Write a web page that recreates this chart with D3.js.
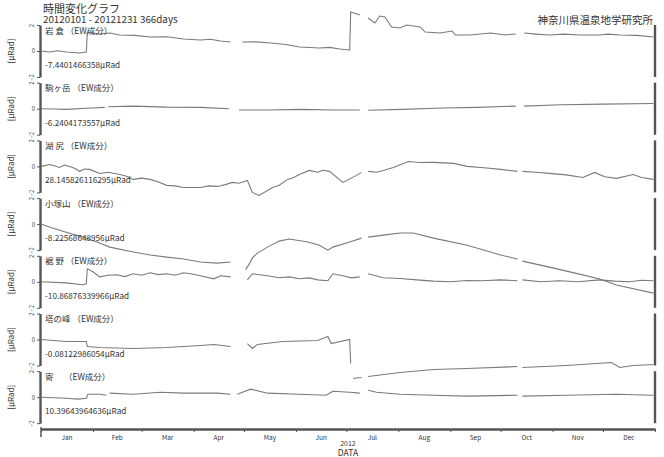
<!DOCTYPE html>
<html>
<head>
<meta charset="utf-8">
<script src="https://cdn.jsdelivr.net/npm/d3@7"></script>
<style>
  body { margin: 0; background: #fff; }
  text { font-family: "Noto Sans CJK JP", "Noto Sans", sans-serif; fill: #333; }
</style>
</head>
<body>
<div id="chart"></div>
<script>
// station labels and offsets
var stations = ["岩 倉 （EW成分）", "駒ヶ岳 （EW成分）", "湖 尻 （EW成分）", "小塚山 （EW成分）",
                "裾 野 （EW成分）", "塔の峰 （EW成分）", "寄　 （EW成分）"];
var offsets = ["-7.4401466358μRad", "-6.2404173557μRad", "28.145826116295μRad", "-8.22568648956μRad",
               "-10.86876339966μRad", "-0.08122986054μRad", "10.39643964636μRad"];

// [day of year, μRad] ; null = missing data
var iwakura = [[0,0],[5,-0.08],[10,0.02],[15,-0.08],[23,-0.15],[27,-0.08],[27.6,1.46],[35,1.31],[41,1.38],[47,1.23],
  [56,1.2],[65,1.08],[75,1.1],[85,0.92],[95,0.85],[101,0.9],[107,0.77],[113,0.69],[114,null],[120,0.69],[128,0.7],
  [137,0.62],[146,0.5],[154,0.31],[166,0.23],[172,0.28],[178,0.15],
  [184,0.08],[184.6,3.0],[190,2.77],[191,null],[195,2.54],[199,2.15],[202,2.69],[205,2.62],[209,1.85],[214,1.77],
  [218,2.0],[226,1.85],[229,1.46],[238,1.38],[245,1.54],[247,1.23],[256,1.23],[262,1.31],[268,1.38],[277,1.23],
  [283,1.31],[284,null],[288,1.38],[295,1.3],[303,1.23],[312,1.3],[321,1.23],[333,1.23],[338,1.3],[345,1.23],[355,1.2],[365,1.08]];
var komagatake = [[0,0],[8,-0.02],[15,-0.05],[30,0.05],[38,0.1],[39,null],[40,0.15],[55,0.2],[75,0.12],[95,0.1],
  [112,0.0],[113,null],[118,-0.1],[135,-0.1],[155,-0.05],[175,-0.1],[190,-0.1],[191,null],[195,-0.12],
  [215,-0.05],[240,0.05],[260,0.1],[283,0.2],[284,null],[288,0.2],[310,0.3],[335,0.35],[365,0.4]];
var kojiri = [[0,0],[5,0.15],[8,0.05],[11,-0.08],[14,0.1],[17,0],[20,-0.15],[23,-0.38],[26,-0.2],[29,-0.23],[35,-0.54],
  [40,-0.45],[47,-0.62],[51,-0.75],[55,-1.0],[60,-0.9],[65,-1.0],[70,-1.2],[75,-1.46],[80,-1.5],[85,-1.62],[95,-1.62],
  [100,-1.5],[105,-1.54],[110,-1.4],[114,-1.23],[118,-1.3],[123,-1.08],[126,-2.0],[130,-2.23],
  [138,-1.62],[142,-1.45],[147,-1.0],[150,-0.9],[154,-0.62],[160,-0.31],[165,-0.45],[168,-0.3],[172,-0.38],[180,-1.23],[188,-0.69],[191,-0.46],[192,null],
  [195,-0.38],[200,-0.45],[204,-0.31],[210,-0.08],[219,0.38],[226,0.3],[234,0.31],[246,0.23],[254,0],[264,-0.1],[274,-0.23],[284,-0.38],
  [285,null],[287,-0.38],[295,-0.45],[303,-0.54],[313,-0.65],[323,-0.85],[330,-0.46],[336,-0.8],[343,-0.92],[353,-0.62],[358,-0.85],[365,-1.0]];
var kozukayama = [[0,0],[5,-0.23],[15,-0.62],[25,-1.0],[35,-1.46],[41,-1.77],[55,-2.15],[65,-2.38],
  [75,-2.54],[85,-2.69],[95,-2.92],[105,-3.0],[113,-2.92],[114,null],[122,-3.5],[124,-3.1],[126,-2.6],
  [129,-2.23],[135,-1.77],[142,-1.31],[148,-1.15],[159,-1.38],[166,-1.62],[171,-2.0],[174,-1.77],
  [184,-1.38],[191,-1.08],[192,null],[195,-1.0],[204,-0.85],[214,-0.69],[222,-0.69],[234,-1.08],
  [254,-1.62],[274,-2.38],[284,-2.69],[285,null],[287,-2.85],[303,-3.31],[321,-3.85],[333,-4.23],
  [343,-4.69],[365,-5.31]];
var susono = [[0,0],[15,-0.08],[25,-0.23],[27,-0.15],[27.6,1.0],[31,0.77],[35,0.38],[40,0.5],[45,0.54],[50,0.4],[55,0.62],
  [60,0.5],[65,0.69],[70,0.55],[75,0.62],[80,0.5],[85,0.69],[90,0.6],[95,0.46],[103,0.23],[107,0.46],[113,0.38],[114,null],[123,0.15],
  [126,0.62],[135,0.46],[142,0.31],[148,0.38],[154,0.23],[160,0.3],[165,0.15],[171,0.08],[174,0.62],[180,0.46],[185,0.3],[190,0.38],
  [191,null],[195,0.62],[204,0.31],[214,0.25],[224,0.15],[234,0.05],[244,0],[254,0.1],[263,0.08],[274,0.15],[284,0.08],[285,null],
  [287,0.15],[298,0.0],[309,0.08],[320,0.0],[333,0.15],[342,0.05],[351,0],[358,0.12],[365,0.08]];
var tonomine = [[0,0],[15,-0.15],[27,-0.15],[27.6,-0.54],[35,-0.62],[55,-0.69],[75,-0.62],[95,-0.46],
  [103,-0.38],[113,-0.54],[114,null],[123,-0.31],[126,-0.69],[129,-0.38],[144,-0.15],[165,-0.08],
  [171,0.23],[173,-0.31],[184,0.0],[184.6,-1.85],[185,null],[186,-3.0],[191,-2.92],[192,null],[195,-2.85],
  [214,-2.54],[234,-2.31],[254,-2.23],[284,-2.08],[285,null],[287,-2.15],[313,-2.0],[340,-1.77],
  [345,-2.15],[353,-2.0],[365,-1.92]];
var yadoriki = [[0,0],[15,-0.08],[22,-0.15],[27,-0.08],[28,0.23],[35,0.23],[39,0.15],[40,null],[41,0.31],
  [55,0.23],[71,0.38],[85,0.31],[105,0.31],[113,0.23],[114,null],[117,0.23],[125,0.62],[135,0.31],
  [154,0.23],[170,0.15],[174,0.46],[184,0.38],[190,0.31],[191,null],[195,0.54],[200,0.38],[214,0.23],
  [234,0.15],[254,0.08],[284,0.15],[285,null],[287,0.08],[313,0.15],[343,0.23],[365,0.15]];

var series = [iwakura, komagatake, kojiri, kozukayama, susono, tonomine, yadoriki];

var width = 664, height = 457;
var left = 41, right = 655;
var firstZero = 51, step = 57.7, half = 26;

var svg = d3.select("#chart").append("svg")
    .attr("width", width)
    .attr("height", height);

var start = new Date(2012, 0, 1);
var dayDate = function (d) { return new Date(start.getTime() + d * 864e5); };

var x = d3.scaleTime()
    .domain([start, new Date(2013, 0, 1)])
    .range([left, right]);

var line = d3.line()
    .defined(function (d) { return d[1] !== null; })
    .x(function (d) { return x(dayDate(d[0])); });

series.forEach(function (data, i) {
    var zero = firstZero + i * step;
    var y = d3.scaleLinear().domain([-2, 2]).range([zero + half, zero - half]);

    var ax = svg.append("g")
        .attr("transform", "translate(" + (left - 1) + ",0)")
        .call(d3.axisLeft(y).tickValues([-2, 0, 2]).tickSize(3).tickSizeOuter(0).tickFormat(d3.format("d")));
    ax.select(".domain").attr("stroke", "#555").attr("stroke-width", 2.4);
    ax.selectAll(".tick line").attr("stroke", "#555");
    ax.selectAll(".tick text")
        .style("font-size", "6px")
        .style("fill", "#444")
        .attr("x", function (d) { return d === 0 ? -5 : 0; })
        .attr("text-anchor", function (d) { return d === 0 ? "end" : "middle"; })
        .attr("dy", function (d) { return d === 0 ? "0.32em" : "0.35em"; })
        .attr("transform", function (d) { return d === 0 ? null : "translate(-8,0) rotate(-90)"; });

    // right bar
    svg.append("line")
        .attr("x1", right).attr("x2", right)
        .attr("y1", zero - half).attr("y2", zero + half)
        .attr("stroke", "#555").attr("stroke-width", 2.4);

    svg.append("path")
        .datum(data)
        .attr("fill", "none")
        .attr("stroke", "#7a7a7a")
        .attr("stroke-width", 1.1)
        .attr("d", line.y(function (d) { return y(d[1]); }));

    svg.append("text")
        .attr("x", 45)
        .attr("y", zero - 17.5)
        .style("font-size", "8.5px")
        .text(stations[i]);

    svg.append("text")
        .attr("x", 45)
        .attr("y", zero + 17)
        .style("font-size", "8.2px")
        .text(offsets[i]);

    svg.append("text")
        .attr("transform", "translate(14," + zero + ") rotate(-90)")
        .attr("text-anchor", "middle")
        .style("font-size", "8px")
        .text("[μRad]");
});

// bottom time axis
var axisY = 429;
var xa = svg.append("g")
    .attr("transform", "translate(0," + axisY + ")")
    .call(d3.axisBottom(x).ticks(d3.timeMonth.every(1)).tickSize(3).tickSizeOuter(0).tickFormat(""));
xa.select(".domain").attr("stroke", "#555").attr("stroke-width", 2.4);
xa.selectAll(".tick line").attr("stroke", "#555");
svg.append("line")
    .attr("x1", left).attr("x2", left)
    .attr("y1", axisY - 2).attr("y2", axisY + 8)
    .attr("stroke", "#555").attr("stroke-width", 1.5);

var months = d3.timeMonths(start, new Date(2013, 0, 1));
svg.selectAll(".mlabel")
    .data(months)
    .enter()
    .append("text")
    .attr("class", "mlabel")
    .attr("x", function (d) { return (x(d) + x(d3.timeMonth.offset(d, 1))) / 2; })
    .attr("y", 440)
    .attr("text-anchor", "middle")
    .style("font-size", "6.5px")
    .text(d3.timeFormat("%b"));

svg.append("text")
    .attr("x", (left + right) / 2)
    .attr("y", 445.5)
    .attr("text-anchor", "middle")
    .style("font-size", "7px")
    .text("2012");
svg.append("text")
    .attr("x", (left + right) / 2)
    .attr("y", 455.5)
    .attr("text-anchor", "middle")
    .style("font-size", "8.5px")
    .text("DATA");

// titles
svg.append("text")
    .attr("x", 43)
    .attr("y", 13)
    .style("font-size", "11px")
    .text("時間変化グラフ");
svg.append("text")
    .attr("x", 43)
    .attr("y", 23)
    .style("font-size", "9.8px")
    .text("20120101 - 20121231 366days");
svg.append("text")
    .attr("x", 653)
    .attr("y", 24)
    .attr("text-anchor", "end")
    .style("font-size", "10.5px")
    .text("神奈川県温泉地学研究所");
</script>
</body>
</html>
